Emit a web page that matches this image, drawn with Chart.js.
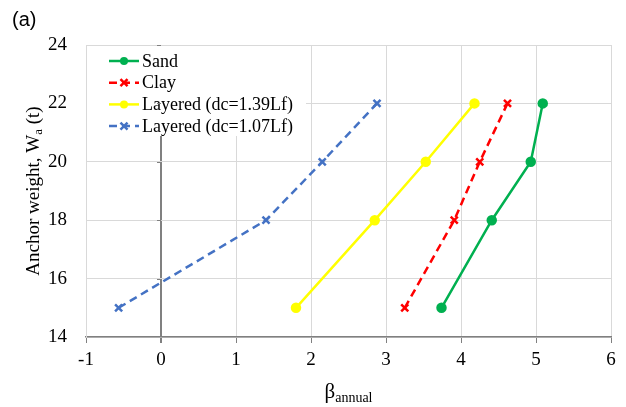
<!DOCTYPE html>
<html>
<head>
<meta charset="utf-8">
<script src="https://cdn.jsdelivr.net/npm/chart.js@4"></script>
<style>
  html, body { margin: 0; padding: 0; background: #fff; }
  #wrap { width: 626px; height: 407px; }
  .probe { position: absolute; left: -999px; top: 0; font-family: "Liberation Serif"; }
</style>
</head>
<body>
<span class="probe">Aβ</span>
<div id="wrap"><canvas id="chart" width="626" height="407"></canvas></div>
<script>
// anchor weights (t) and annual reliability index for each soil case
const anchorWeights = [15, 18, 20, 22];
const sandBeta = [3.74, 4.41, 4.93, 5.09];
const clayBeta = [3.25, 3.91, 4.25, 4.62];
const layered139Beta = [1.80, 2.85, 3.53, 4.18];
const layered107Beta = [-0.565, 1.40, 2.15, 2.88];
const seriesNames = ["Sand", "Clay", "Layered (dc=1.39Lf)", "Layered (dc=1.07Lf)"];
const xTickValues = [-1, 0, 1, 2, 3, 4, 5, 6];
const yTickValues = [14, 16, 18, 20, 22, 24];

const SERIF = "'Liberation Serif', 'Times New Roman', 'DejaVu Serif', serif";

function pts(betas) {
  return betas.map((b, i) => ({ x: b, y: anchorWeights[i] }));
}

// legend, axis titles and the ticks on the zero line
const decor = {
  id: "decor",
  afterDatasetsDraw(chart) {
    const ctx = chart.ctx;
    const xs = chart.scales.x, ys = chart.scales.y;
    const x0 = xs.getPixelForValue(0);

    // legend box
    ctx.save();
    ctx.fillStyle = "#fff";
    ctx.fillRect(chart.chartArea.left + 1, chart.chartArea.top + 1, 219, 90);
    chart.data.datasets.forEach((ds, i) => {
      const y = 61 + i * 21.7;
      ctx.strokeStyle = ds.borderColor;
      ctx.lineWidth = 2.5;
      ctx.setLineDash(ds.borderDash || []);
      ctx.beginPath();
      ctx.moveTo(109, y);
      ctx.lineTo(139, y);
      ctx.stroke();
      ctx.setLineDash([]);
      ctx.fillStyle = ds.pointBackgroundColor;
      ctx.strokeStyle = ds.borderColor;
      ctx.lineWidth = ds.pointBorderWidth || 1;
      if (ds.pointStyle === "circle") {
        ctx.beginPath();
        ctx.arc(124, y, ds.pointRadius, 0, Math.PI * 2);
        ctx.fill();
      } else {
        Chart.helpers.drawPoint(ctx, {
          pointStyle: ds.pointStyle,
          radius: ds.pointRadius,
          borderWidth: ds.pointBorderWidth || 1,
        }, 124, y);
      }
      ctx.fillStyle = "#000";
      ctx.font = "18px " + SERIF;
      ctx.textBaseline = "middle";
      ctx.textAlign = "left";
      ctx.fillText(ds.label, 142, y + 1);
    });
    ctx.restore();

    // small ticks on the zero line
    ctx.save();
    ctx.strokeStyle = "#808080";
    ctx.lineWidth = 1;
    yTickValues.forEach(v => {
      if (v === 14) return;
      const y = Math.round(ys.getPixelForValue(v)) + 0.5;
      ctx.beginPath();
      ctx.moveTo(x0 - 4, y);
      ctx.lineTo(x0, y);
      ctx.stroke();
    });
    ctx.restore();
  },
  afterDraw(chart) {
    const ctx = chart.ctx;
    ctx.save();
    ctx.fillStyle = "#000";

    // panel label
    ctx.font = "20px 'Liberation Sans', Arial, sans-serif";
    ctx.textBaseline = "middle";
    ctx.textAlign = "left";
    ctx.fillText("(a)", 12, 20);

    // x title: beta with subscript
    const xa = chart.chartArea;
    const cx = (xa.left + xa.right) / 2;
    ctx.textBaseline = "alphabetic";
    ctx.font = "21px " + SERIF;
    const wB = ctx.measureText("β").width;
    ctx.font = "14px " + SERIF;
    const wS = ctx.measureText("annual").width;
    const sx = cx - (wB + wS) / 2;
    ctx.font = "21px " + SERIF;
    ctx.fillText("β", sx, 398);
    ctx.font = "14px " + SERIF;
    ctx.fillText("annual", sx + wB, 402);

    // y title, rotated
    ctx.translate(34, (xa.top + xa.bottom) / 2);
    ctx.rotate(-Math.PI / 2);
    const p1 = "Anchor weight, W", p2 = "a", p3 = " (t)";
    ctx.font = "19px " + SERIF;
    const w1 = ctx.measureText(p1).width, w3 = ctx.measureText(p3).width;
    ctx.font = "13px " + SERIF;
    const w2 = ctx.measureText(p2).width;
    let tx = -(w1 + w2 + w3) / 2;
    ctx.textBaseline = "middle";
    ctx.font = "19px " + SERIF;
    ctx.fillText(p1, tx, 0);
    ctx.font = "13px " + SERIF;
    ctx.fillText(p2, tx + w1, 5);
    ctx.font = "19px " + SERIF;
    ctx.fillText(p3, tx + w1 + w2, 0);
    ctx.restore();
  }
};

new Chart(document.getElementById("chart"), {
  type: "line",
  data: {
    datasets: [
      {
        label: seriesNames[0],
        data: pts(sandBeta),
        borderColor: "#00b050",
        backgroundColor: "#00b050",
        pointBackgroundColor: "#00b050",
        pointStyle: "circle",
        pointRadius: 4,
        borderWidth: 2.5,
      },
      {
        label: seriesNames[1],
        data: pts(clayBeta),
        borderColor: "#ff0000",
        backgroundColor: "#ff0000",
        pointBackgroundColor: "#ff0000",
        pointStyle: "crossRot",
        pointRadius: 5,
        pointBorderWidth: 2.5,
        borderWidth: 2.5,
        borderDash: [8, 5],
      },
      {
        label: seriesNames[2],
        data: pts(layered139Beta),
        borderColor: "#ffff00",
        backgroundColor: "#ffff00",
        pointBackgroundColor: "#ffff00",
        pointStyle: "circle",
        pointRadius: 4,
        borderWidth: 2.5,
      },
      {
        label: seriesNames[3],
        data: pts(layered107Beta),
        borderColor: "#4472c4",
        backgroundColor: "#4472c4",
        pointBackgroundColor: "#4472c4",
        pointStyle: "crossRot",
        pointRadius: 5,
        pointBorderWidth: 2.5,
        borderWidth: 2.5,
        borderDash: [8, 5],
      },
    ],
  },
  options: {
    responsive: false,
    animation: false,
    layout: { padding: { left: 0, right: 15, top: 45, bottom: 0 } },
    plugins: {
      legend: { display: false },
      tooltip: { enabled: false },
    },
    scales: {
      x: {
        type: "linear",
        min: -1,
        max: 6,
        afterBuildTicks: s => { s.ticks = xTickValues.map(v => ({ value: v })); },
        afterFit: s => { s.height = 70; },
        ticks: {
          color: "#000",
          padding: 6,
          maxRotation: 0,
          font: { family: SERIF, size: 19 },
        },
        grid: {
          color: c => (c.tick && c.tick.value === 0 ? "#808080" : "#d9d9d9"),
          lineWidth: c => (c.tick && c.tick.value === 0 ? 2 : 1),
          tickColor: "#808080",
          tickLength: 6,
        },
        border: { color: "#808080", width: 1.5 },
      },
      y: {
        min: 14,
        max: 24,
        afterBuildTicks: s => { s.ticks = yTickValues.map(v => ({ value: v })); },
        afterFit: s => { s.width = 86; },
        ticks: {
          color: "#000",
          padding: 19,
          font: { family: SERIF, size: 19 },
        },
        grid: { color: "#d9d9d9", drawTicks: false },
        border: { color: "#d9d9d9", width: 1 },
      },
    },
  },
  plugins: [decor],
});
</script>
</body>
</html>
